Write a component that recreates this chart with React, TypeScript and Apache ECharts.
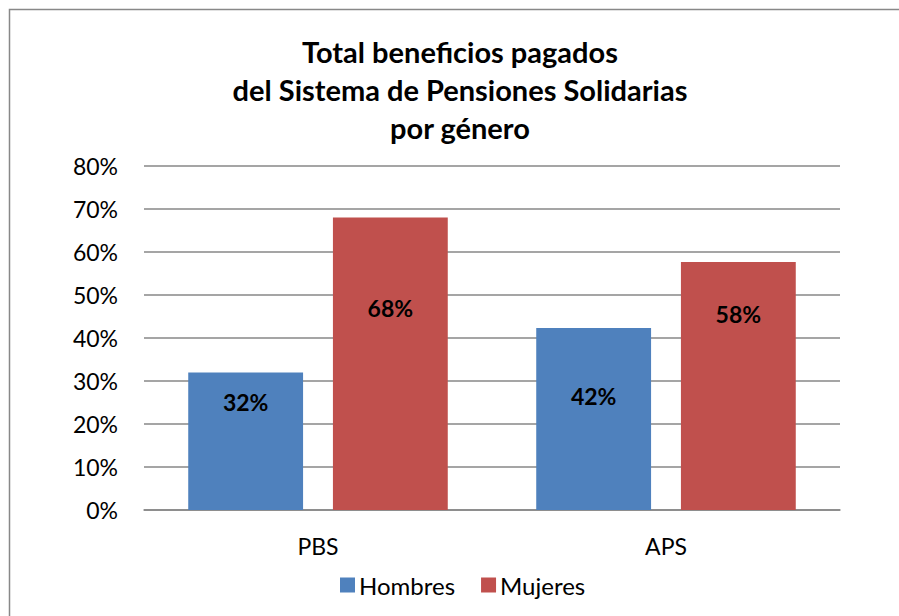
import React, { useEffect, useRef } from "react";
import * as echarts from "echarts";

const categories = ["PBS", "APS"];
const seriesNames = ["Hombres", "Mujeres"];
const hombres = [0.32, 0.423];
const mujeres = [0.68, 0.577];
const yTicks = [0, 0.1, 0.2, 0.3, 0.4, 0.5, 0.6, 0.7, 0.8];
const titleLines = [
  "Total beneficios pagados",
  "del Sistema de Pensiones Solidarias",
  "por género",
];

// label distance from bar top (px), matching the reference placement
const hombresLabelDepth = [30, 68];
const mujeresLabelDepth = [90, 52];

const FONT = "Lato, 'Noto Sans', sans-serif";

export default function App() {
  const ref = useRef<HTMLDivElement>(null);
  useEffect(() => {
    if (!ref.current) return;
    const chart = echarts.init(ref.current, undefined, { renderer: "svg" });
    const pct = (v: number) => Math.round(v * 100) + "%";
    const mkData = (vals: number[], depths: number[]) =>
      vals.map((v, i) => ({
        value: v,
        label: { position: ["50%", depths[i]] },
      }));
    const labelStyle = {
      show: true,
      align: "center",
      verticalAlign: "middle",
      fontFamily: FONT,
      fontWeight: "bold",
      fontSize: 23,
      color: "#000",
      formatter: (p: any) => pct(p.value),
    };
    chart.setOption({
      animation: false,
      backgroundColor: "#fff",
      graphic: [
        {
          type: "rect",
          shape: { x: 9.5, y: 9.5, width: 1200, height: 1200 },
          style: { fill: "none", stroke: "#888", lineWidth: 1.5 },
          silent: true,
        },
        {
          type: "text",
          x: 460,
          y: 32,
          style: {
            text: titleLines.join("\n"),
            align: "center",
            verticalAlign: "top",
            fontFamily: FONT,
            fontWeight: "bold",
            fontSize: 29,
            lineHeight: 38,
            fill: "#000",
          },
        },
      ],
      grid: { left: 144, right: 59, top: 166, bottom: 106 },
      legend: {
        data: seriesNames,
        left: 335,
        top: 568,
        icon: "rect",
        itemWidth: 15,
        itemHeight: 15,
        itemGap: 26,
        textStyle: { fontFamily: FONT, fontSize: 24, color: "#000", padding: [0, 0, 0, -1] },
      },
      xAxis: {
        type: "category",
        data: categories,
        axisTick: { show: false },
        axisLine: { lineStyle: { color: "#878787", width: 1.5 } },
        axisLabel: { fontFamily: FONT, fontSize: 23, color: "#000", margin: 24 },
      },
      yAxis: {
        type: "value",
        min: yTicks[0],
        max: yTicks[yTicks.length - 1],
        interval: 0.1,
        axisLine: { show: false },
        axisTick: { show: false },
        splitLine: { lineStyle: { color: "#878787", width: 1.5 } },
        axisLabel: {
          fontFamily: FONT,
          fontSize: 23,
          color: "#000",
          margin: 26,
          formatter: (v: number) => pct(v),
        },
      },
      series: [
        {
          name: seriesNames[0],
          type: "bar",
          data: mkData(hombres, hombresLabelDepth),
          barWidth: "33%",
          barGap: "26%",
          itemStyle: { color: "#4F81BD" },
          label: labelStyle,
        },
        {
          name: seriesNames[1],
          type: "bar",
          data: mkData(mujeres, mujeresLabelDepth),
          barWidth: "33%",
          barGap: "26%",
          itemStyle: { color: "#C0504D" },
          label: labelStyle,
        },
      ],
    });
    return () => chart.dispose();
  }, []);
  return (
    <div
      ref={ref}
      style={{ position: "absolute", left: 0, top: 0, width: 899, height: 616 }}
    />
  );
}
